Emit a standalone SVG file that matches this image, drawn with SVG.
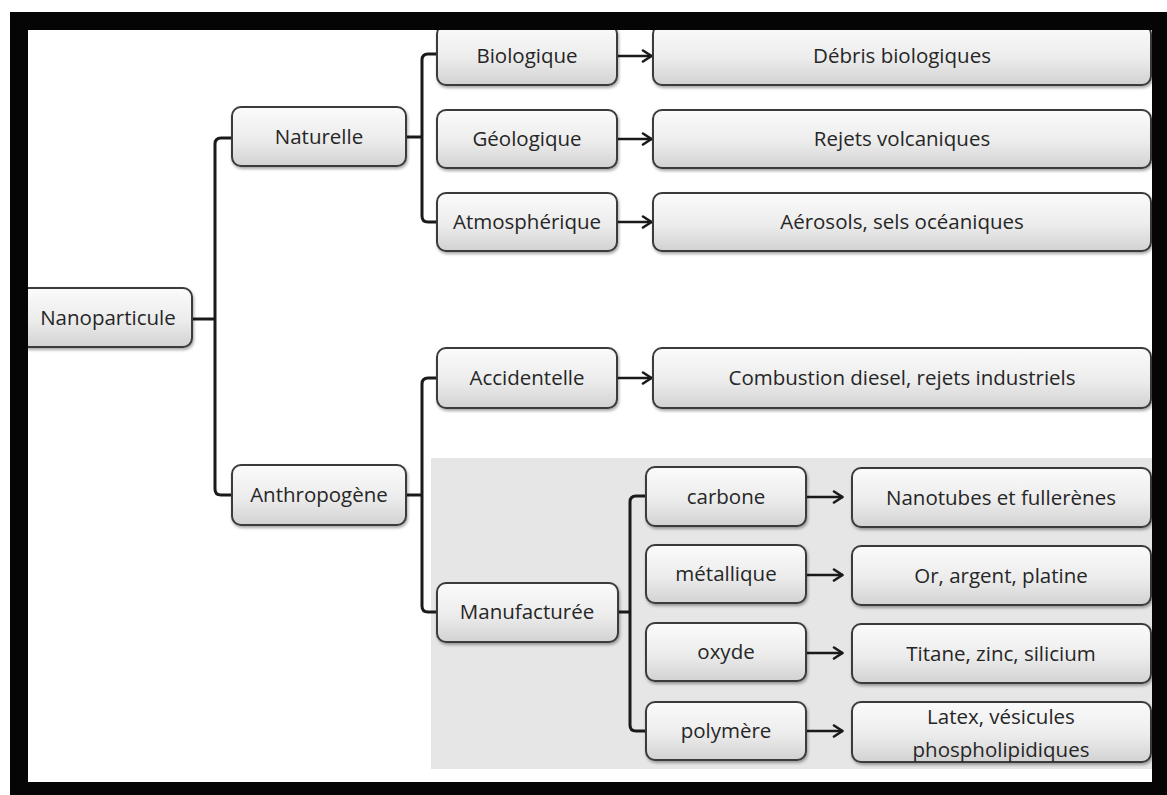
<svg xmlns="http://www.w3.org/2000/svg" width="1167" height="795" viewBox="0 0 1167 795">
  <defs>
    <linearGradient id="boxFill" x1="0" y1="0" x2="0" y2="1">
      <stop offset="0" stop-color="#fbfbfb"/>
      <stop offset="0.55" stop-color="#ececec"/>
      <stop offset="1" stop-color="#d2d2d2"/>
    </linearGradient>
    <filter id="shadow" x="-5%" y="-10%" width="110%" height="130%">
      <feDropShadow dx="1" dy="2" stdDeviation="1.5" flood-color="#000" flood-opacity="0.35"/>
    </filter>
    <marker id="chev" viewBox="0 0 12 14" refX="11" refY="7" markerWidth="12" markerHeight="14" markerUnits="userSpaceOnUse" orient="auto">
      <path d="M2,1.5 L10.5,7 L2,12.5" fill="none" stroke="#1a1a1a" stroke-width="2.6" stroke-linecap="round" stroke-linejoin="round"/>
    </marker>
    <style>
      .box { fill: url(#boxFill); stroke: #3a3a3a; stroke-width: 2; filter: url(#shadow); }
      .lbl { font-family: "Open Sans", "Liberation Sans", sans-serif; font-size: 20.5px; fill: #262626; text-anchor: middle; }
      .link { fill: none; stroke: #1a1a1a; stroke-width: 3; stroke-linecap: butt; stroke-linejoin: round; }
      .arrow { fill: none; stroke: #1a1a1a; stroke-width: 2.6; marker-end: url(#chev); }
    </style>
  </defs>

  <rect x="0" y="0" width="1167" height="795" fill="#ffffff"/>

  <!-- shaded panel behind the manufactured branch -->
  <rect id="panel-manufacturee" x="431" y="458" width="721" height="311" fill="#e6e6e6"/>

  <!-- connectors -->
  <g id="connectors">
    <path class="link" d="M192,319 H215"/>
    <path class="link" d="M232,138 H221 Q215,138 215,144 V489 Q215,495 221,495 H232"/>

    <path class="link" d="M406,137 H422"/>
    <path class="link" d="M437,54 H428 Q422,54 422,60 V216 Q422,222 428,222 H437"/>

    <path class="link" d="M406,495 H422"/>
    <path class="link" d="M437,378 H428 Q422,378 422,384 V606 Q422,612 428,612 H437"/>

    <path class="link" d="M618,612 H630"/>
    <path class="link" d="M646,496 H636 Q630,496 630,502 V725 Q630,731 636,731 H646"/>

    <path class="arrow" d="M617,56 H652"/>
    <path class="arrow" d="M617,139 H652"/>
    <path class="arrow" d="M617,222 H652"/>
    <path class="arrow" d="M617,378 H652"/>

    <path class="arrow" d="M807,497 H843"/>
    <path class="arrow" d="M807,575 H843"/>
    <path class="arrow" d="M807,653 H843"/>
    <path class="arrow" d="M807,731 H843"/>
  </g>

  <g id="node-nanoparticule">
    <rect class="box" x="20" y="288" width="172" height="59" rx="9"/>
    <text class="lbl" x="108" y="325">Nanoparticule</text>
  </g>

  <g id="node-naturelle">
    <rect class="box" x="232" y="107" width="174" height="59" rx="9"/>
    <text class="lbl" x="319" y="144">Naturelle</text>
  </g>
  <g id="node-anthropogene">
    <rect class="box" x="232" y="465" width="174" height="60" rx="9"/>
    <text class="lbl" x="319" y="502">Anthropogène</text>
  </g>

  <g id="node-biologique">
    <rect class="box" x="437" y="25" width="180" height="60" rx="9"/>
    <text class="lbl" x="527" y="63">Biologique</text>
  </g>
  <g id="node-geologique">
    <rect class="box" x="437" y="110" width="180" height="58" rx="9"/>
    <text class="lbl" x="527" y="146">Géologique</text>
  </g>
  <g id="node-atmospherique">
    <rect class="box" x="437" y="193" width="180" height="58" rx="9"/>
    <text class="lbl" x="527" y="229">Atmosphérique</text>
  </g>
  <g id="node-accidentelle">
    <rect class="box" x="437" y="348" width="180" height="60" rx="9"/>
    <text class="lbl" x="527" y="385">Accidentelle</text>
  </g>
  <g id="node-manufacturee">
    <rect class="box" x="437" y="583" width="181" height="59" rx="9"/>
    <text class="lbl" x="527" y="619">Manufacturée</text>
  </g>

  <g id="node-debris">
    <rect class="box" x="653" y="25" width="498" height="60" rx="9"/>
    <text class="lbl" x="902" y="63">Débris biologiques</text>
  </g>
  <g id="node-rejets-volcaniques">
    <rect class="box" x="653" y="110" width="498" height="58" rx="9"/>
    <text class="lbl" x="902" y="146">Rejets volcaniques</text>
  </g>
  <g id="node-aerosols">
    <rect class="box" x="653" y="193" width="498" height="58" rx="9"/>
    <text class="lbl" x="902" y="229">Aérosols, sels océaniques</text>
  </g>
  <g id="node-combustion">
    <rect class="box" x="653" y="348" width="498" height="60" rx="9"/>
    <text class="lbl" x="902" y="385">Combustion diesel, rejets industriels</text>
  </g>

  <g id="node-carbone">
    <rect class="box" x="646" y="467" width="160" height="59" rx="9"/>
    <text class="lbl" x="726" y="504">carbone</text>
  </g>
  <g id="node-metallique">
    <rect class="box" x="646" y="545" width="160" height="58" rx="9"/>
    <text class="lbl" x="726" y="581">métallique</text>
  </g>
  <g id="node-oxyde">
    <rect class="box" x="646" y="623" width="160" height="58" rx="9"/>
    <text class="lbl" x="726" y="659">oxyde</text>
  </g>
  <g id="node-polymere">
    <rect class="box" x="646" y="702" width="160" height="58" rx="9"/>
    <text class="lbl" x="726" y="738">polymère</text>
  </g>

  <g id="node-nanotubes">
    <rect class="box" x="852" y="468" width="299" height="59" rx="9"/>
    <text class="lbl" x="1001" y="505">Nanotubes et fullerènes</text>
  </g>
  <g id="node-or">
    <rect class="box" x="852" y="546" width="299" height="59" rx="9"/>
    <text class="lbl" x="1001" y="583">Or, argent, platine</text>
  </g>
  <g id="node-titane">
    <rect class="box" x="852" y="624" width="299" height="59" rx="9"/>
    <text class="lbl" x="1001" y="661">Titane, zinc, silicium</text>
  </g>
  <g id="node-latex">
    <rect class="box" x="852" y="702" width="299" height="60" rx="9"/>
    <text class="lbl" x="1001" y="724">Latex, vésicules</text>
    <text class="lbl" x="1001" y="757">phospholipidiques</text>
  </g>

  <!-- heavy black frame -->
  <path d="M10,12 H1167 V795 H10 Z M28,30 V782 H1152 V30 Z" fill="#050505" fill-rule="evenodd"/>
</svg>
